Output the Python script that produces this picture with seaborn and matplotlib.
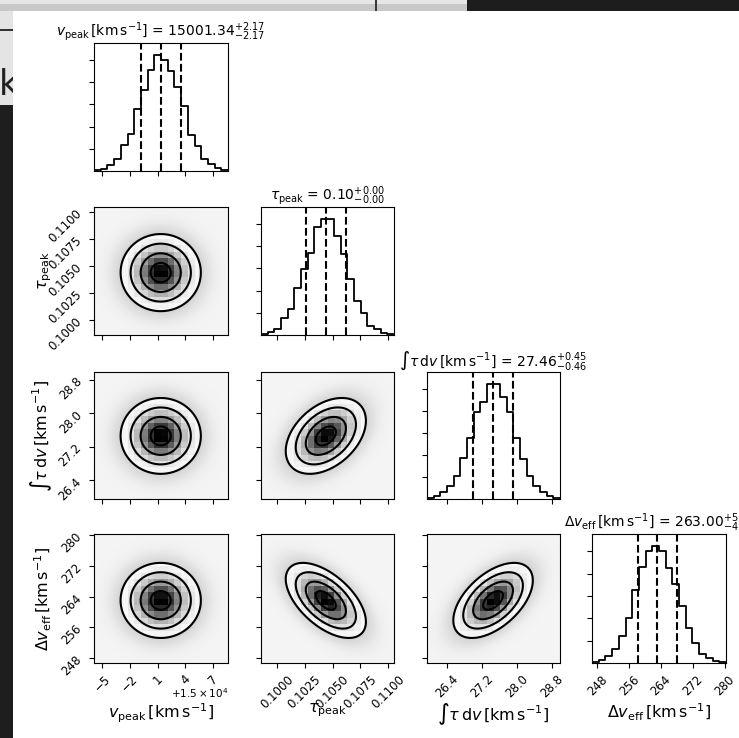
import numpy as np
import pandas as pd
import matplotlib
matplotlib.use("Agg")
import matplotlib.pyplot as plt
import seaborn as sns
from matplotlib.colors import LinearSegmentedColormap
from matplotlib.ticker import FixedLocator, FuncFormatter, FormatStrFormatter, NullFormatter
from matplotlib.patches import Rectangle

# ---------------- data ----------------
labels = [r"$v_{\rm peak}\,[\rm km\,s^{-1}]$",
          r"$\tau_{\rm peak}$",
          r"$\int\tau\,{\rm d}v\,[\rm km\,s^{-1}]$",
          r"$\Delta v_{\rm eff}\,[\rm km\,s^{-1}]$"]
medians = [15001.34, 0.1044, 27.46, 263.00]
err_minus = [2.17, 0.0018, 0.46, 4.80]
err_plus = [2.17, 0.0018, 0.45, 5.00]
ranges = [(14994.14, 15008.60), (0.09859, 0.11051), (25.95, 28.99), (246.7, 280.3)]
vpeak_offset = 15000

counts_vpeak = [6, 21, 57, 111, 231, 336, 561, 726, 906, 1047, 996, 897, 756, 582, 327, 225, 111, 66, 27, 6]
counts_tau = [9, 24, 54, 150, 231, 420, 591, 741, 975, 1047, 1041, 894, 729, 504, 306, 195, 84, 51, 21, 6]
counts_int = [9, 24, 63, 114, 213, 369, 558, 789, 885, 1050, 1050, 924, 789, 558, 363, 210, 114, 60, 24, 6]
counts_dv = [12, 24, 60, 129, 240, 405, 654, 864, 1005, 1050, 999, 849, 705, 510, 315, 180, 81, 45, 18, 9]
hist_counts = [counts_vpeak, counts_tau, counts_int, counts_dv]
hist_yticks = [200, 400, 600, 800, 1000]

# correlation coefficients between parameters (estimated from contour tilts)
corr = [[1.00, 0.00, 0.00, 0.00],
        [0.00, 1.00, 0.40, -0.57],
        [0.00, 0.40, 1.00, 0.53],
        [0.00, -0.57, 0.53, 1.00]]

ticks_vpeak = [14995, 14998, 15001, 15004, 15007]
ticks_tau = [0.1000, 0.1025, 0.1050, 0.1075, 0.1100]
ticks_int = [26.4, 27.2, 28.0, 28.8]
ticks_dv = [248, 256, 264, 272, 280]
ticks = [ticks_vpeak, ticks_tau, ticks_int, ticks_dv]
tick_fmt = [None, "%.4f", "%.1f", "%d"]
sigma_levels = [0.5, 1.0, 1.5, 2.0]

# ---------------- figure ----------------
W, H = 739, 738
fig = plt.figure(figsize=(W / 100, H / 100), dpi=100)

# screenshot surroundings
def frect(x0, y0, x1, y1, color, z=-10):
    fig.patches.append(Rectangle((x0 / W, 1 - y1 / H), (x1 - x0) / W, (y1 - y0) / H,
                                 transform=fig.transFigure, facecolor=color,
                                 edgecolor="none", zorder=z))
frect(0, 0, 467, 11, "#c8c8c8")
frect(0, 0, 467, 4, "#e6e6e6")
frect(375, 0, 377, 11, "#3a3a3a")
frect(467, 0, W, 11, "#1d1d1d")
frect(0, 11, 13, 105, "#e4e4e4")
frect(0, 29, 13, 31, "#333333")
frect(0, 105, 13, H, "#1e1e1e")
fig.text(-1.5 / W, 1 - 95 / H, "k", fontsize=25, color="#222222", zorder=-9)
frect(13, 11, W, H, "white", z=-8)

col_px = [(94, 228), (261, 394), (427, 560), (592, 726)]
row_px = [(43, 171), (207, 335), (372, 499), (534, 663)]

def add_ax(i, j):
    x0, x1 = col_px[j]
    y0, y1 = row_px[i]
    return fig.add_axes([x0 / W, 1 - y1 / H, (x1 - x0) / W, (y1 - y0) / H])

TICK_FS = 8.5
LABEL_FS = 11.5
TITLE_FS = 10
n = 4
sig = [(a + b) / 2 for a, b in zip(err_minus, err_plus)]

density_cmap = LinearSegmentedColormap.from_list("density_cmap", ["k", (1, 1, 1, 0)])


def offset_fmt(v, pos):
    return f"{v - vpeak_offset:g}".replace("-", "\u2212")


def format_axis(axis, k):
    axis.set_major_locator(FixedLocator(ticks[k]))
    if tick_fmt[k] is None:
        axis.set_major_formatter(FuncFormatter(offset_fmt))
    else:
        axis.set_major_formatter(FormatStrFormatter(tick_fmt[k]))


def gauss2d(xg, yg, j, i):
    r = corr[i][j]
    zx = (xg - medians[j]) / sig[j]
    zy = (yg - medians[i]) / sig[i]
    return np.exp(-0.5 * (zx ** 2 - 2 * r * zx * zy + zy ** 2) / (1 - r ** 2))


for i in range(n):
    for j in range(i + 1):
        ax = add_ax(i, j)
        if i == j:
            lo, hi = ranges[i]
            nb = len(hist_counts[i])
            edges = np.linspace(lo, hi, nb + 1)
            df = pd.DataFrame({"x": 0.5 * (edges[1:] + edges[:-1]), "w": hist_counts[i]})
            sns.histplot(data=df, x="x", weights="w", bins=nb, binrange=(lo, hi),
                         element="step", fill=False, color="k", linewidth=1.3, ax=ax)
            for q in (medians[i] - err_minus[i], medians[i], medians[i] + err_plus[i]):
                ax.axvline(q, color="k", ls="--", lw=1.5)
            ax.set_xlim(lo, hi)
            ax.set_ylim(0, 1.1 * max(hist_counts[i]))
            ax.yaxis.set_major_locator(FixedLocator(hist_yticks))
            ax.yaxis.set_major_formatter(NullFormatter())
            ax.set_ylabel("")
            ax.set_xlabel("")
            title = (f"{labels[i]} = ${medians[i]:.2f}_{{-{err_minus[i]:.2f}}}"
                     f"^{{+{err_plus[i]:.2f}}}$")
            ax.set_title(title, fontsize=TITLE_FS, pad=4)
        else:
            xlo, xhi = ranges[j]
            ylo, yhi = ranges[i]
            xf = np.linspace(xlo, xhi, 220)
            yf = np.linspace(ylo, yhi, 220)
            XF, YF = np.meshgrid(xf, yf)
            Z = gauss2d(XF, YF, j, i)
            bg = 0.09 + 0.30 * (1 - np.exp(-8 * Z))
            ax.imshow(bg, cmap="Greys", vmin=0, vmax=1, origin="lower",
                      extent=(xlo, xhi, ylo, yhi), aspect="auto",
                      interpolation="bilinear", zorder=0)
            flat = np.sort(Z.ravel())[::-1]
            cs = np.cumsum(flat)
            cs /= cs[-1]
            masses = [1 - np.exp(-0.5 * s ** 2) for s in sigma_levels]
            lev = sorted(flat[np.searchsorted(cs, m)] for m in masses)
            ax.contourf(XF, YF, Z, levels=[lev[0], Z.max() * 1.01], colors="white", zorder=1)
            xe = np.linspace(xlo, xhi, 21)
            ye = np.linspace(ylo, yhi, 21)
            XC, YC = np.meshgrid(0.5 * (xe[1:] + xe[:-1]), 0.5 * (ye[1:] + ye[:-1]))
            Hc = gauss2d(XC, YC, j, i)
            ax.pcolormesh(xe, ye, Hc.max() - Hc, cmap=density_cmap, zorder=2)
            ax.contour(XF, YF, Z, levels=lev, colors="k", linewidths=1.5, zorder=3)
            ax.set_xlim(xlo, xhi)
            ax.set_ylim(ylo, yhi)
            format_axis(ax.yaxis, i)
            if j == 0:
                ax.set_ylabel(labels[i], fontsize=LABEL_FS)
                ax.yaxis.set_label_coords(-0.3, 0.5)
                for t in ax.get_yticklabels():
                    t.set_rotation(45)
                    t.set_fontsize(TICK_FS)
            else:
                ax.yaxis.set_major_formatter(NullFormatter())
        format_axis(ax.xaxis, j)
        if i == n - 1:
            ax.set_xlabel(labels[j], fontsize=LABEL_FS)
            ax.xaxis.set_label_coords(0.5, -0.3)
            for t in ax.get_xticklabels():
                t.set_rotation(45)
                t.set_fontsize(TICK_FS)
            if j == 0:
                e = int(np.floor(np.log10(vpeak_offset)))
                ax.text(1.0, -0.18, rf"$+{vpeak_offset / 10 ** e:g}\times10^{{{e}}}$",
                        transform=ax.transAxes, ha="right", va="top", fontsize=7.5)
        else:
            ax.xaxis.set_major_formatter(NullFormatter())

fig.savefig("out.png", dpi=100)
